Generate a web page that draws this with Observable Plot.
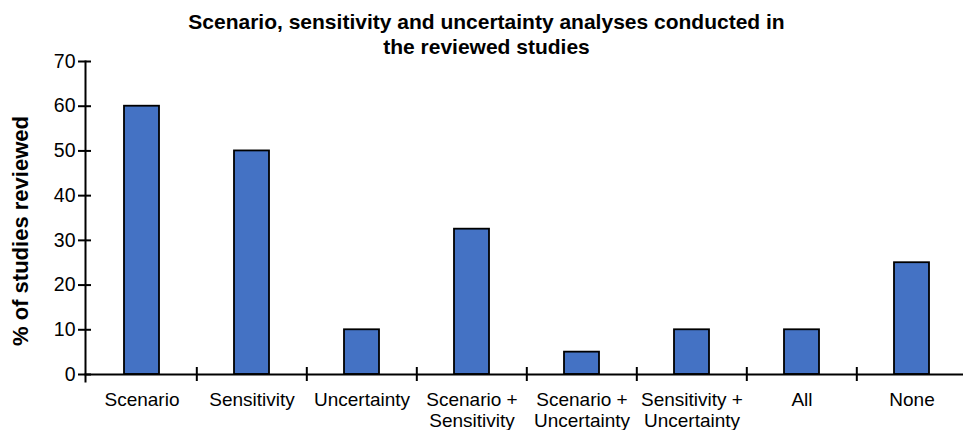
<!DOCTYPE html>
<html>
<head>
<meta charset="utf-8">
<script src="https://cdn.jsdelivr.net/npm/d3@7"></script>
<script src="https://cdn.jsdelivr.net/npm/@observablehq/plot@0.6"></script>
<style>
  body { margin: 0; background: #fff; font-family: "Liberation Sans", Arial, sans-serif; }
  #title { width: 963px; height: 55px; box-sizing: border-box; padding-top: 9px; padding-left: 10px;
           text-align: center; font-weight: bold; font-size: 21px; line-height: 25px; color: #000; }
  #chart { position: relative; }
  #ylab { position: absolute; left: 21px; top: 176px; transform: translate(-50%, -50%) rotate(-90deg);
          white-space: nowrap; font-weight: bold; font-size: 22px; color: #000; }
</style>
</head>
<body>
<div id="title">Scenario, sensitivity and uncertainty analyses conducted in<br>the reviewed studies</div>
<div id="chart"><div id="ylab">% of studies reviewed</div></div>
<script>
const categories = ["Scenario", "Sensitivity", "Uncertainty", "Scenario + Sensitivity", "Scenario + Uncertainty", "Sensitivity + Uncertainty", "All", "None"];
const tickLabels = ["Scenario", "Sensitivity", "Uncertainty", "Scenario +\nSensitivity", "Scenario +\nUncertainty", "Sensitivity +\nUncertainty", "All", "None"];
const values = [60, 50, 10, 32.5, 5, 10, 10, 25];
const yTicks = [0, 10, 20, 30, 40, 50, 60, 70];

const data = categories.map((c, i) => ({category: c, value: values[i]}));
const W = 963, ML = 85;
const xRange = [85, 968];
const halfStep = (xRange[1] - xRange[0]) / categories.length / 2;

const plot = Plot.plot({
  width: W,
  height: 375,
  marginTop: 6,
  marginBottom: 56,
  marginLeft: ML,
  marginRight: 0,
  style: {fontFamily: "Liberation Sans, Arial, sans-serif", fontSize: "19px", color: "#000", background: "#fff", overflow: "visible"},
  x: {domain: categories, range: xRange, paddingInner: 0.68, paddingOuter: 0.34, align: 0.5, label: null},
  y: {domain: [0, 70], ticks: yTicks, label: null},
  marks: [
    Plot.barY(data, {x: "category", y: "value", fill: "#4472C4", stroke: "#000", strokeWidth: 1.8}),
    Plot.ruleY(yTicks, {y: d => d, insetLeft: -7, insetRight: W - ML - 6, stroke: "#000", strokeWidth: 2}),
    Plot.axisY({ticks: yTicks, tickSize: 7, tickPadding: 3, fontSize: 19.5, label: null, stroke: "none"}),
    Plot.frame({anchor: "left", strokeWidth: 2, insetBottom: -7}),
    Plot.frame({anchor: "bottom", strokeWidth: 2}),
    Plot.ruleX(categories.slice(1), {x: d => d, y1: 0, y2: 0, insetTop: 7, insetBottom: 7, dx: -halfStep, stroke: "#000", strokeWidth: 2}),
    Plot.axisX({tickSize: 0, tickPadding: 17, fontSize: 19, lineHeight: 1.1, label: null,
      tickFormat: (d) => tickLabels[categories.indexOf(d)]})
  ]
});
document.getElementById("chart").appendChild(plot);
</script>
</body>
</html>
